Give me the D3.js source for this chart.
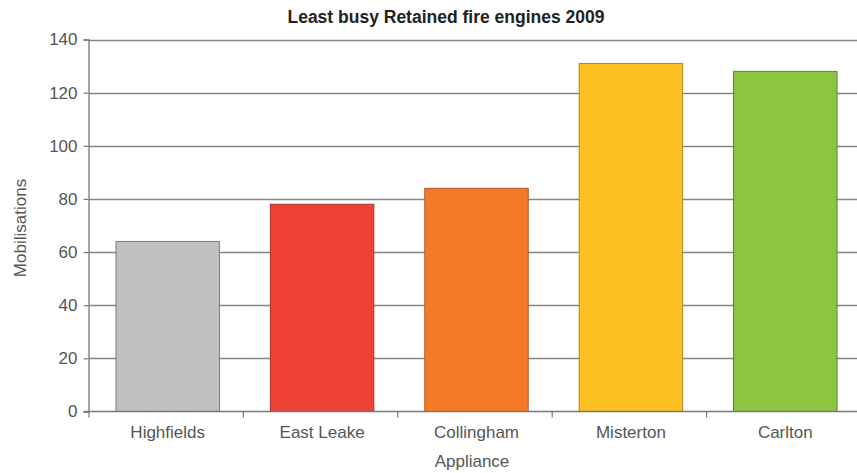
<!DOCTYPE html>
<html>
<head>
<meta charset="utf-8">
<script src="https://cdn.jsdelivr.net/npm/d3@7"></script>
<style>
  html, body { margin: 0; padding: 0; background: #fff; }
  svg { display: block; font-family: "Liberation Sans", Arial, sans-serif; }
</style>
</head>
<body>
<svg id="chart" width="857" height="473"></svg>
<script>
// Retained fire engines with the fewest mobilisations in 2009
const categories = ["Highfields", "East Leake", "Collingham", "Misterton", "Carlton"];
const mobilisations = [64, 78, 84, 131, 128];
const barColors = ["#c0c0c0", "#ee4136", "#f47a25", "#fdc122", "#8cc540"];
const barStrokes = ["#7d7d7d", "#a8342a", "#a8592a", "#a8862a", "#5f7f35"];
const yTicks = [0, 20, 40, 60, 80, 100, 120, 140];
const titleText = "Least busy Retained fire engines 2009";
const xTitle = "Appliance";
const yTitle = "Mobilisations";

const svg = d3.select("#chart");
const plot = { left: 89, right: 861, top: 39.5, bottom: 411.5 };

// bars sit slightly right of each category's centre
const x = d3.scaleBand()
  .domain(categories)
  .range([plot.left + 1.5, plot.right + 1.5])
  .paddingInner(0.33)
  .paddingOuter(0.165);

const y = d3.scaleLinear()
  .domain([0, 140])
  .range([plot.bottom, plot.top]);

// horizontal gridlines
svg.append("g")
  .selectAll("line")
  .data(yTicks.filter(d => d > 0))
  .join("line")
  .attr("x1", plot.left)
  .attr("x2", plot.right)
  .attr("y1", d => Math.round(y(d)) + 0.5)
  .attr("y2", d => Math.round(y(d)) + 0.5)
  .attr("stroke", "#858585")
  .attr("stroke-width", 1.3);

// bars
svg.append("g")
  .selectAll("rect")
  .data(categories)
  .join("rect")
  .attr("x", d => x(d))
  .attr("width", x.bandwidth())
  .attr("y", (d, i) => y(mobilisations[i]))
  .attr("height", (d, i) => y(0) - y(mobilisations[i]))
  .attr("fill", (d, i) => barColors[i])
  .attr("stroke", (d, i) => barStrokes[i])
  .attr("stroke-width", 1);

// y axis
const yAxis = svg.append("g")
  .attr("transform", `translate(${plot.left - 0.5},0)`)
  .call(d3.axisLeft(y).tickValues(yTicks).tickSize(5).tickPadding(6));
yAxis.select(".domain").attr("stroke", "#777").attr("stroke-width", 1.3);
yAxis.selectAll(".tick line").attr("stroke", "#777").attr("stroke-width", 1.2);
yAxis.selectAll(".tick text")
  .attr("fill", "#555")
  .style("font-size", "17px")
  .style("font-family", "'Liberation Sans', Arial, sans-serif");

// x axis: baseline with ticks at category boundaries
const xAxisG = svg.append("g")
  .attr("transform", `translate(0,${plot.bottom})`);
xAxisG.append("line")
  .attr("x1", plot.left - 5)
  .attr("x2", plot.right)
  .attr("stroke", "#777")
  .attr("stroke-width", 1.3);
const step = x.step();
const boundaries = d3.range(categories.length + 1).map(i => plot.left + i * step);
xAxisG.selectAll("line.bnd")
  .data(boundaries)
  .join("line")
  .attr("class", "bnd")
  .attr("x1", d => d)
  .attr("x2", d => d)
  .attr("y1", 0)
  .attr("y2", 6)
  .attr("stroke", "#777")
  .attr("stroke-width", 1.2);
xAxisG.selectAll("text")
  .data(categories)
  .join("text")
  .attr("x", d => x(d) + x.bandwidth() / 2)
  .attr("y", 26)
  .attr("text-anchor", "middle")
  .attr("fill", "#555")
  .style("font-size", "17px")
  .text(d => d);

// titles
svg.append("text")
  .attr("x", 446)
  .attr("y", 23)
  .attr("text-anchor", "middle")
  .attr("fill", "#222")
  .style("font-size", "17.5px")
  .style("font-weight", "bold")
  .text(titleText);

svg.append("text")
  .attr("x", 472)
  .attr("y", 467)
  .attr("text-anchor", "middle")
  .attr("fill", "#555")
  .style("font-size", "17px")
  .text(xTitle);

svg.append("text")
  .attr("transform", "translate(26,228) rotate(-90)")
  .attr("text-anchor", "middle")
  .attr("fill", "#555")
  .style("font-size", "17px")
  .text(yTitle);
</script>
</body>
</html>
